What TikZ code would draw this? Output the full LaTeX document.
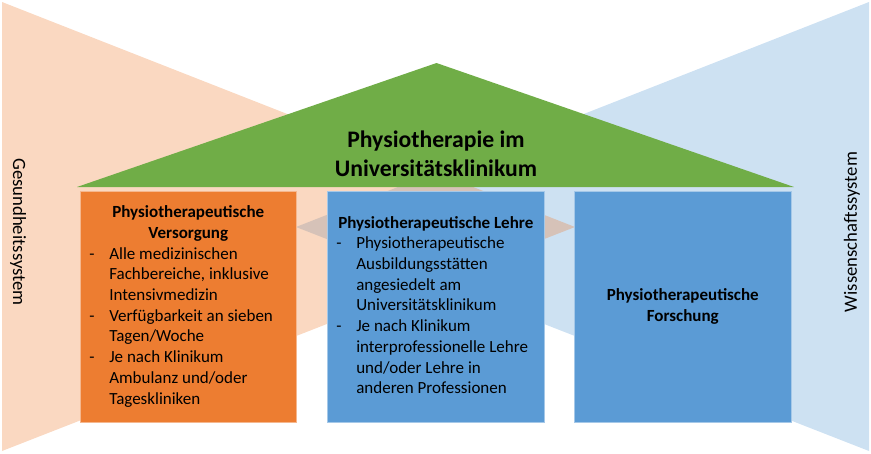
\documentclass[tikz,border=0pt]{standalone}
\usepackage{fontspec}
\setmainfont{Carlito}
\usepackage{array}
\definecolor{boxorange}{HTML}{ED7D31}
\definecolor{boxblue}{HTML}{5B9BD5}
\definecolor{roofgreen}{HTML}{70AD47}
\tikzset{
  pillar/.style={draw=#1!55!white, line width=0.6pt, fill=#1, anchor=north west, inner sep=0pt},
  bodytext/.style={inner sep=0pt, anchor=center, font=\fontsize{17}{20.7}\selectfont},
  sidelabel/.style={inner sep=0pt, anchor=center, font=\fontsize{18.7}{22}\selectfont},
  wedge/.style={fill=#1, fill opacity=0.3, draw=none}
}
\begin{document}
\begin{tikzpicture}[x=1pt,y=-1pt]
\useasboundingbox (0,0) rectangle (871,453);
% background wedges
\coordinate (bl1) at (2,2);
\coordinate (bl2) at (2,451);
\coordinate (bltip) at (575,227);
\coordinate (br1) at (869,2);
\coordinate (br2) at (869,451);
\coordinate (brtip) at (296,227);
\fill[wedge=boxblue] (br1) -- (brtip) -- (br2) -- cycle;
\fill[wedge=boxorange] (bl1) -- (bltip) -- (bl2) -- cycle;
% roof
\coordinate (r1) at (77,187);
\coordinate (r2) at (436.5,63);
\coordinate (r3) at (794,187);
\fill[roofgreen] (r1) -- (r2) -- (r3) -- cycle;
\node[inner sep=0pt, align=center, font=\fontsize{23.7}{28.5}\selectfont\bfseries] (title) at (436,154)
  {Physiotherapie im\\Universitätsklinikum};
% pillars
\node[pillar=boxorange, minimum width=216pt, minimum height=231pt] (p1) at (80,191) {};
\node[pillar=boxblue, minimum width=217pt, minimum height=231pt] (p2) at (327,191) {};
\node[pillar=boxblue, minimum width=217pt, minimum height=231pt] (p3) at (574,191) {};
\node[bodytext] (t1) at (p1.center) {%
  \begin{tabular}{@{}>{\raggedright\arraybackslash}p{20pt}@{}>{\raggedright\arraybackslash}p{178pt}@{}}
  \multicolumn{2}{@{}c@{}}{\bfseries Physiotherapeutische}\\
  \multicolumn{2}{@{}c@{}}{\bfseries Versorgung}\\
  -&Alle medizinischen\newline Fachbereiche, inklusive\newline Intensivmedizin\\
  -&Verfügbarkeit an sieben\newline Tagen/Woche\\
  -&Je nach Klinikum\newline Ambulanz und/oder\newline Tageskliniken\\
  \end{tabular}};
\node[bodytext] (t2) at (p2.center) {%
  \begin{tabular}{@{}>{\raggedright\arraybackslash}p{20pt}@{}>{\raggedright\arraybackslash}p{179pt}@{}}
  \multicolumn{2}{@{}c@{}}{\bfseries Physiotherapeutische Lehre}\\
  -&Physiotherapeutische\newline Ausbildungsstätten\newline angesiedelt am\newline Universitätsklinikum\\
  -&Je nach Klinikum\newline interprofessionelle Lehre\newline und/oder Lehre in\newline anderen Professionen\\
  \end{tabular}};
\node[bodytext, align=center, font=\fontsize{17}{20.7}\selectfont\bfseries] (t3) at (p3.center)
  {Physiotherapeutische\\Forschung};
% side labels
\node[sidelabel, rotate=-90] (gs) at (18,232) {Gesundheitssystem};
\node[sidelabel, rotate=90] (ws) at (852,232) {Wissenschaftssystem};
\end{tikzpicture}
\end{document}
